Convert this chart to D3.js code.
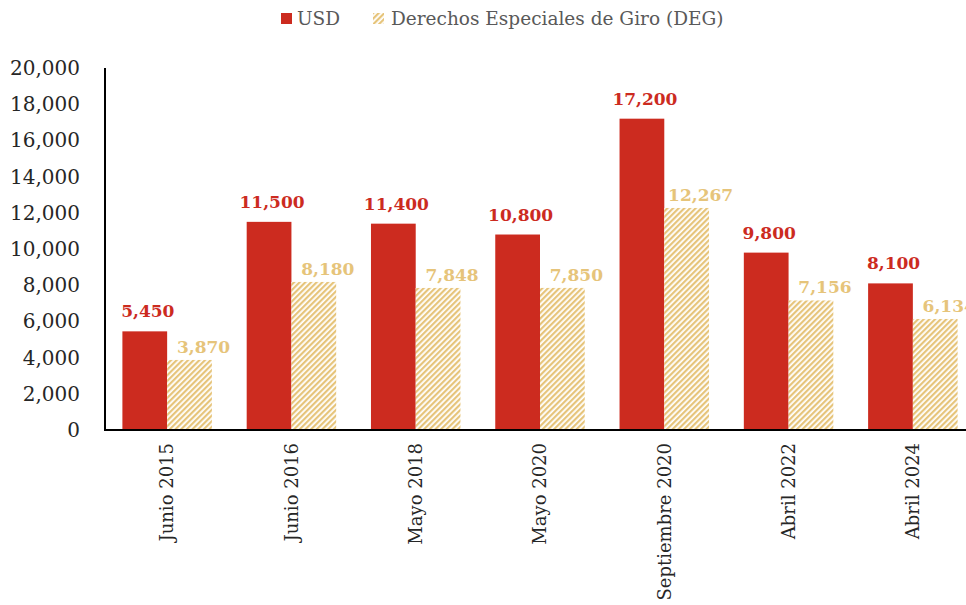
<!DOCTYPE html>
<html>
<head>
<meta charset="utf-8">
<script src="https://cdn.jsdelivr.net/npm/d3@7"></script>
<style>
  body { margin: 0; background: #fff; }
  svg { display: block; font-family: "DejaVu Serif", serif; }
</style>
</head>
<body>
<div id="chart"></div>
<script>
const categories = ["Junio 2015", "Junio 2016", "Mayo 2018", "Mayo 2020", "Septiembre 2020", "Abril 2022", "Abril 2024"];
const usd = [5450, 11500, 11400, 10800, 17200, 9800, 8100];
const deg = [3870, 8180, 7848, 7850, 12267, 7156, 6134];
const yTicks = [0, 2000, 4000, 6000, 8000, 10000, 12000, 14000, 16000, 18000, 20000];
const seriesNames = ["USD", "Derechos Especiales de Giro (DEG)"];

const width = 966, height = 605;
const red = "#cc2b1f", gold = "#e6c47a";
const format = d3.format(",");

const svg = d3.select("#chart").append("svg")
    .attr("width", width)
    .attr("height", height);

// hatch pattern for DEG bars
const defs = svg.append("defs");
const pat = defs.append("pattern")
    .attr("id", "hatch")
    .attr("patternUnits", "userSpaceOnUse")
    .attr("width", 4)
    .attr("height", 4)
    .attr("patternTransform", "rotate(45)");
pat.append("rect").attr("width", 4).attr("height", 4).attr("fill", "#fff");
pat.append("rect").attr("width", 2.2).attr("height", 4).attr("fill", gold);

const x = d3.scaleBand()
    .domain(categories)
    .range([105, 975])
    .paddingInner(0.28)
    .paddingOuter(0.14);

const x1 = d3.scaleBand()
    .domain(seriesNames)
    .range([0, x.bandwidth()]);

const y = d3.scaleLinear().domain([0, 20000]).range([430, 68]);

// y axis
const yAxis = svg.append("g")
    .attr("transform", "translate(105,0)")
    .call(d3.axisLeft(y).tickValues(yTicks).tickFormat(format).tickSize(0).tickPadding(25));
yAxis.select(".domain").attr("stroke", "#000").attr("stroke-width", 2).attr("d", "M0,68V431");
yAxis.selectAll("text")
    .attr("font-family", "DejaVu Serif")
    .attr("font-size", 20)
    .attr("fill", "#262626");

const rows = categories.map((c, i) => ({ cat: c, vals: [usd[i], deg[i]] }));

const groups = svg.append("g")
    .selectAll("g")
    .data(rows)
    .join("g")
    .attr("transform", d => `translate(${x(d.cat)},0)`);

groups.selectAll("rect")
    .data(d => d.vals.map((v, j) => ({ name: seriesNames[j], v, j })))
    .join("rect")
    .attr("x", d => x1(d.name))
    .attr("y", d => y(d.v))
    .attr("width", x1.bandwidth())
    .attr("height", d => y(0) - y(d.v))
    .attr("fill", d => d.j === 0 ? red : "url(#hatch)");

// value labels: USD sits higher, DEG label shifted right (as in the original)
groups.selectAll("text.val")
    .data(d => d.vals.map((v, j) => ({ name: seriesNames[j], v, j })))
    .join("text")
    .attr("class", "val")
    .attr("x", d => x1(d.name) + x1.bandwidth() / 2 + (d.j === 0 ? 3 : 14))
    .attr("y", d => y(d.v) - (d.j === 0 ? 14 : 7))
    .attr("text-anchor", "middle")
    .attr("font-size", 17)
    .attr("font-weight", "bold")
    .attr("fill", d => d.j === 0 ? red : gold)
    .text(d => format(d.v));

// x axis
const xAxis = svg.append("g")
    .attr("transform", "translate(0,430)")
    .call(d3.axisBottom(x).tickSize(0).tickPadding(0));
xAxis.select(".domain").attr("stroke", "#000").attr("stroke-width", 2).attr("d", "M104,0H966");
xAxis.selectAll("text")
    .attr("font-family", "DejaVu Serif")
    .attr("font-size", 18)
    .attr("fill", "#262626")
    .attr("text-anchor", "end")
    .attr("dy", "0.35em")
    .attr("transform", "translate(0,13) rotate(-90)")
    .attr("x", 0)
    .attr("y", 0);

// legend
const legend = svg.append("g").attr("font-size", 18.5).attr("fill", "#595959");
legend.append("rect").attr("x", 281).attr("y", 13).attr("width", 11).attr("height", 11).attr("fill", red);
legend.append("text").attr("x", 297).attr("y", 25).text(seriesNames[0]);
legend.append("rect").attr("x", 373).attr("y", 13).attr("width", 11).attr("height", 11).attr("fill", "url(#hatch)");
legend.append("text").attr("x", 391).attr("y", 25).text(seriesNames[1]);
</script>
</body>
</html>
